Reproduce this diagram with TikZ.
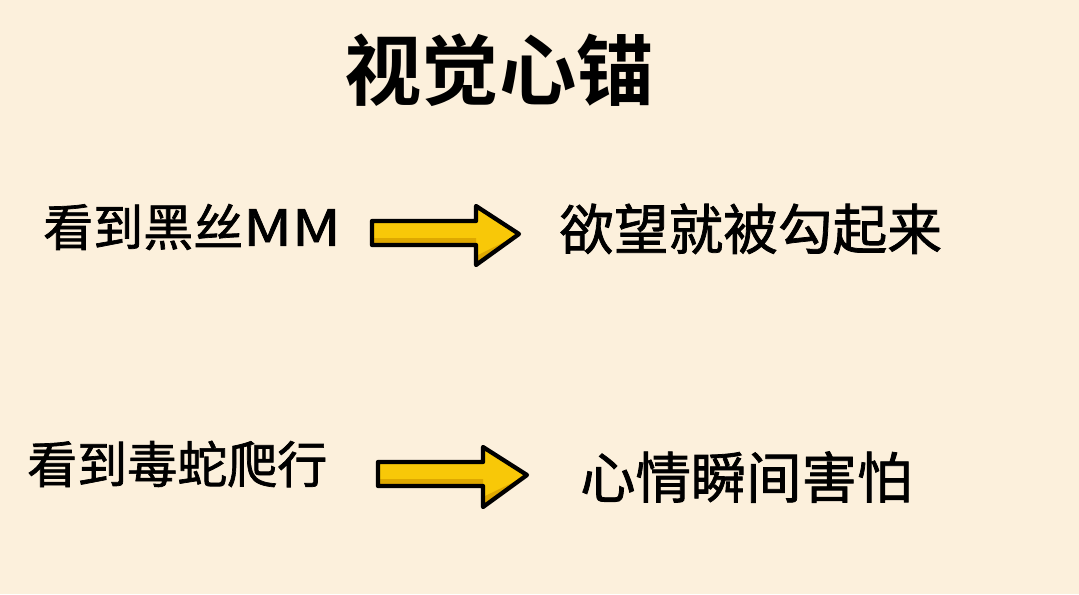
\documentclass[tikz,border=0pt]{standalone}
\usepackage{fontspec}
\usepackage{graphicx}
\newfontfamily\cjk{Noto Sans CJK SC}[BoldFont={* Bold}]
\newfontfamily\cjkm{Noto Sans CJK SC}[FakeBold=1.4]
\definecolor{bgc}{RGB}{252,240,220}
\definecolor{arrowyel}{RGB}{248,200,8}
\definecolor{arrowdark}{RGB}{222,168,0}
\begin{document}
\begin{tikzpicture}[x=0.75pt,y=-0.75pt,
  lbl/.style={anchor=west,inner sep=0pt,font=\cjkm\fontsize{37.5}{40}\selectfont},
  lblb/.style={anchor=west,inner sep=0pt,font=\cjkm\fontsize{41}{44}\selectfont},
  ttl/.style={anchor=center,inner sep=0pt,font=\cjk\bfseries\fontsize{58}{62}\selectfont},
  arrowfill/.style={fill=arrowyel},
  arrowline/.style={draw=black,line width=3.2pt,line join=round}]
\fill[bgc] (0,0) rectangle (1079,594);
\useasboundingbox (0,0) rectangle (1079,594);
\node[ttl] (title) at (499,70) {视觉心锚};
\node[lbl] (a1) at (43,227) {看到黑丝\scalebox{1.2}[1]{MM}};
\node[lblb] (b1) at (559,229) {欲望就被勾起来};
\node[lbl] (a2) at (27,464) {看到毒蛇爬行};
\node[lblb,font=\cjkm\fontsize{41.5}{44}\selectfont] (b2) at (580,477) {心情瞬间害怕};
% arrow 1
\fill[arrowfill] (372,221) -- (476,221) -- (476,206) -- (519,234) -- (476,265) -- (476,245) -- (372,245) -- cycle;
\fill[arrowdark] (372,238) -- (476,238) -- (476,256) -- (510,239) -- (519,234) -- (476,265) -- (476,245) -- (372,245) -- cycle;
\draw[arrowline] (372,221) -- (476,221) -- (476,206) -- (519,234) -- (476,265) -- (476,245) -- (372,245) -- cycle;
% arrow 2
\fill[arrowfill] (378,462) -- (483,462) -- (483,447) -- (527,475) -- (483,507) -- (483,486) -- (378,486) -- cycle;
\fill[arrowdark] (378,479) -- (483,479) -- (483,497) -- (518,480) -- (527,475) -- (483,507) -- (483,486) -- (378,486) -- cycle;
\draw[arrowline] (378,462) -- (483,462) -- (483,447) -- (527,475) -- (483,507) -- (483,486) -- (378,486) -- cycle;
\end{tikzpicture}
\end{document}
